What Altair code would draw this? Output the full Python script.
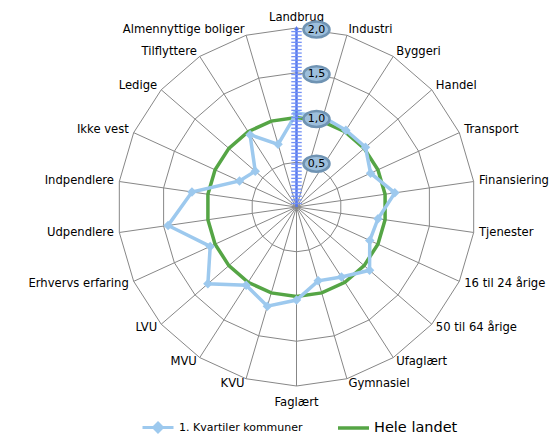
import altair as alt
import pandas as pd

# ---------------- data ----------------
categories = [
    "Landbrug", "Industri", "Byggeri", "Handel", "Transport", "Finansiering",
    "Tjenester", "16 til 24 årige", "50 til 64 årige", "Ufaglært", "Gymnasiel",
    "Faglært", "KVU", "MVU", "LVU", "Erhvervs erfaring", "Udpendlere",
    "Indpendlere", "Ikke vest", "Ledige", "Tilflyttere", "Almennyttige boliger",
]
kvartil = [1.05, 1.05, 1.02, 1.02, 0.91, 1.11, 0.92, 0.90, 1.08, 0.93, 0.86,
           1.04, 1.155, 1.04, 1.31, 1.06, 1.45, 1.18, 0.70, 0.61, 0.96, 0.73]
hele = [1.0, 1.0, 1.0, 1.0, 1.0, 1.0, 1.0, 1.0, 1.0, 1.0, 1.0,
        1.0, 1.0, 1.0, 1.0, 1.0, 1.0, 1.0, 1.0, 1.0, 1.0, 1.0]
series_names = ["1. Kvartiler kommuner", "Hele landet"]
grid_levels = [0.5, 1.0, 1.5, 2.0]
tick_labels = ["0,5", "1,0", "1,5", "2,0"]

# ---------------- layout / style ----------------
W, H = 542, 427
CX, CY, U = 296.5, 207.0, 89.5          # page centre and pixels per unit
XMIN, XMAX = -(CX - 8) / U, (8 + W - CX) / U
YMAX, YMIN = (CY - 8) / U, -(8 + H - CY) / U
FONT = "DejaVu Sans"
BLUE = "#9DC9EE"
GREEN = "#55A545"
GRID = "#878787"
AXIS = "#5577EE"
N = len(categories)
LR = 2.06
LEG_Y = 402.5

xs = alt.Scale(domain=[XMIN, XMAX], nice=False, zero=False)
ys = alt.Scale(domain=[YMIN, YMAX], nice=False, zero=False)
X = alt.X("x:Q", scale=xs, axis=None)
Y = alt.Y("y:Q", scale=ys, axis=None)

ang = f"datum.idx*2*PI/{N}"

rows = []
for name, vals in [(series_names[0], kvartil), (series_names[1], hele)]:
    for i in range(N + 1):
        rows.append({"series": name, "idx": i, "value": vals[i % N]})
df = pd.DataFrame(rows)

cat_df = pd.DataFrame({"idx": list(range(N)), "cat": categories})
ring_df = pd.DataFrame([{"level": lv, "idx": i} for lv in grid_levels for i in range(N + 1)])
tick_df = pd.DataFrame({"level": grid_levels, "label": tick_labels})

# grid rings
rings = alt.Chart(ring_df).transform_calculate(
    x=f"datum.level*sin({ang})", y=f"datum.level*cos({ang})"
).mark_line(color=GRID, strokeWidth=1).encode(
    x=X, y=Y, detail="level:N", order="idx:Q"
)

# spokes
spokes = alt.Chart(cat_df).transform_calculate(
    x="0", y="0", x2=f"2*sin({ang})", y2=f"2*cos({ang})"
).mark_rule(color=GRID, strokeWidth=1).encode(
    x=X, y=Y, x2="x2:Q", y2="y2:Q"
)

calc = dict(x=f"datum.value*sin({ang})", y=f"datum.value*cos({ang})")

green = alt.Chart(df).transform_filter(
    alt.datum.series == series_names[1]
).transform_calculate(**calc).mark_line(strokeWidth=3.5).encode(
    x=X, y=Y, order="idx:Q",
    stroke=alt.Stroke(
        "series:N",
        scale=alt.Scale(domain=[series_names[1]], range=[GREEN]),
        legend=alt.Legend(
            title=None, orient="none", legendX=328, legendY=LEG_Y,
            symbolType="stroke", symbolSize=961, symbolStrokeWidth=3.5,
            labelFont=FONT, labelFontSize=14.5, labelColor="#000000",
            labelOffset=3, padding=0,
        ),
    ),
)

blue_line = alt.Chart(df).transform_filter(
    alt.datum.series == series_names[0]
).transform_calculate(**calc).mark_line(strokeWidth=3.5).encode(
    x=X, y=Y, order="idx:Q",
    color=alt.Color(
        "series:N",
        scale=alt.Scale(domain=[series_names[0]], range=[BLUE]),
        legend=alt.Legend(
            title=None, orient="none", legendX=133, legendY=LEG_Y,
            symbolType="M-1,0L1,0M0,-0.28L0.28,0L0,0.28L-0.28,0Z",
            symbolSize=961, symbolStrokeWidth=3, symbolFillColor=BLUE,
            labelFont=FONT, labelFontSize=11, labelColor="#000000",
            labelOffset=4, padding=0,
        ),
    ),
)

blue_pts = alt.Chart(df).transform_filter(
    (alt.datum.series == series_names[0]) & (alt.datum.idx < N)
).transform_calculate(**calc).mark_point(
    shape="diamond", filled=True, size=90, color=BLUE, opacity=1
).encode(x=X, y=Y)

# category labels
lab = alt.Chart(cat_df).transform_calculate(
    x=f"{LR}*sin({ang})", y=f"{LR}*cos({ang})"
)
lab_kw = dict(font=FONT, fontSize=11.6, color="#000000")
lab_right = lab.transform_filter(
    (alt.datum.idx > 0) & (alt.datum.idx < N / 2)
).mark_text(align="left", baseline="middle", **lab_kw).encode(x=X, y=Y, text="cat:N")
lab_left = lab.transform_filter(
    alt.datum.idx > N / 2
).mark_text(align="right", baseline="middle", **lab_kw).encode(x=X, y=Y, text="cat:N")
lab_top = lab.transform_filter(
    alt.datum.idx == 0
).mark_text(align="center", baseline="alphabetic", dy=-2, **lab_kw).encode(x=X, y=Y, text="cat:N")
lab_bottom = lab.transform_filter(
    alt.datum.idx == N / 2
).mark_text(align="center", baseline="top", dy=6, **lab_kw).encode(x=X, y=Y, text="cat:N")

# radial value axis
axis_line = alt.Chart(pd.DataFrame({"a": [0]})).transform_calculate(
    x="0", y="0", y2="2"
).mark_rule(color=AXIS, strokeWidth=2.5).encode(x=X, y=Y, y2="y2:Q")

axis_ticks = alt.Chart(alt.sequence(0.04, 2.0, 0.04, as_="v")).transform_calculate(
    x="0", y="datum.v"
).mark_point(shape="stroke", size=110, filled=False, color="#7391F5",
             strokeWidth=1.3, opacity=1).encode(x=X, y=Y)

axis_arrow = alt.Chart(pd.DataFrame({"a": [0]})).transform_calculate(
    x="0", y="2"
).mark_point(shape="triangle-up", size=22, filled=True, color=AXIS, opacity=1).encode(x=X, y=Y)

bubbles = alt.Chart(tick_df).transform_calculate(x="0", y="datum.level").mark_point(
    shape="M-1,0A1,0.61,0,1,0,1,0A1,0.61,0,1,0,-1,0Z",
    size=676, filled=True, fill="#9DBFDC", stroke="#6F93B3", strokeWidth=2.5,
    opacity=1, xOffset=20, yOffset=1.5,
).encode(x=X, y=Y)

bubble_text = alt.Chart(tick_df).transform_calculate(x="0", y="datum.level").mark_text(
    font=FONT, fontSize=11, color="#000000", align="center", baseline="middle",
    xOffset=20, yOffset=1.5,
).encode(x=X, y=Y, text="label:N")

chart = alt.layer(
    rings, spokes, green, blue_line, blue_pts,
    lab_right, lab_left, lab_top, lab_bottom,
    axis_line, axis_ticks, axis_arrow, bubbles, bubble_text,
).resolve_scale(color="independent", stroke="independent").properties(
    width=W, height=H,
    autosize=alt.AutoSizeParams(type="none"),
    padding=0,
    background="#FFFFFF",
).configure_view(stroke=None)

chart.save("out.html", embed_options={"renderer": "svg", "actions": False})
